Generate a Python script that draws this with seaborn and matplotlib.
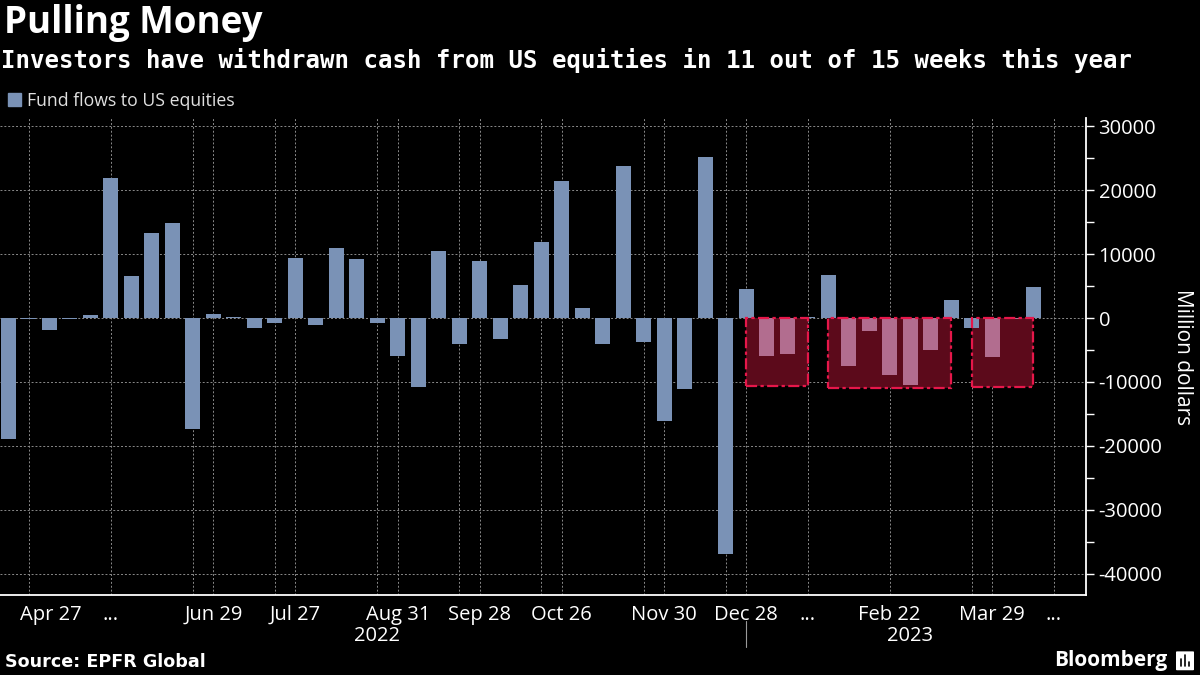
import seaborn as sns
import matplotlib.pyplot as plt
import matplotlib.patches as mpatches
from matplotlib.lines import Line2D
from matplotlib.transforms import ScaledTranslation
import pandas as pd

# weekly dates (the week of Jan 4 2023 is not in the data)
semanas = list(pd.date_range("2022-04-20", "2022-12-28", freq="7D")) + \
    list(pd.date_range("2023-01-11", "2023-04-12", freq="7D"))

# fund flows to US equities, million dollars
fluxos = [-18900, -200, -1900, -100, 500, 21900, 6600, 13300, 14900, -17300,
          700, 200, -1500, -700, 9400, -1100, 11000, 9300, -800, -6000,
          -10800, 10500, -4000, 8950, -3350, 5200, 11900, 21400, 1600, -4000,
          23800, -3800, -16150, -11150, 25200, -36900, 4600, -6000, -5700, 200,
          6750, -7550, -2100, -8950, -10500, -5050, 2850, -1600, -6150, -200,
          4900]

# highlighted stretches of outflows in 2023: (first week, last week, depth)
caixas = [("2022-12-28", "2023-01-25", -10600),
          ("2023-02-01", "2023-03-15", -10900),
          ("2023-03-22", "2023-04-12", -10750)]

rotulos_x = {"2022-04-27": "Apr 27", "2022-05-25": "...", "2022-06-29": "Jun 29",
             "2022-07-27": "Jul 27", "2022-08-31": "Aug 31", "2022-09-28": "Sep 28",
             "2022-10-26": "Oct 26", "2022-11-30": "Nov 30", "2022-12-28": "Dec 28",
             "2023-01-25": "...", "2023-02-22": "Feb 22", "2023-03-29": "Mar 29",
             "2023-04-19": "..."}
grade_x = ["2022-04-27", "2022-05-25", "2022-06-22", "2022-06-29", "2022-07-20",
           "2022-07-27", "2022-08-24", "2022-08-31", "2022-09-21", "2022-09-28",
           "2022-10-19", "2022-10-26", "2022-11-23", "2022-11-30", "2022-12-21",
           "2022-12-28", "2023-01-25", "2023-02-22", "2023-03-22", "2023-03-29",
           "2023-04-19"]
marcas_x = ["2022-04-20", "2022-05-04", "2022-05-18", "2022-06-01", "2022-06-15",
            "2022-07-06", "2022-08-03", "2022-08-17", "2022-09-07", "2022-10-05",
            "2022-11-02", "2022-11-16", "2022-12-07", "2023-01-11", "2023-02-08",
            "2023-03-08", "2023-04-05"]
anos = [("2022", "2022-08-24"), ("2023", "2023-03-01")]

AZUL = "#7a92b6"
ROSA = "#b26d8f"
VINHO = "#5c0a1b"
VERMELHO = "#e6174a"

datas = [d.strftime("%Y-%m-%d") for d in semanas]


def posicao(data):
    # categorical position of a week, extended past the last bar
    if data in datas:
        return datas.index(data)
    extra = (pd.Timestamp(data) - semanas[-1]).days // 7
    return len(datas) - 1 + extra


grupo = []
for i in range(len(datas)):
    dentro = any(posicao(a) < i < posicao(b) for a, b, _ in caixas)
    grupo.append("destaque" if dentro else "normal")

df = pd.DataFrame({"semana": datas, "fluxo": fluxos, "grupo": grupo})

sns.set_style("dark")
plt.rcParams["font.family"] = ["Open Sans", "DejaVu Sans"]

fig = plt.figure(figsize=(12, 6.75), dpi=100, facecolor="black")
ax = fig.add_axes([0.0, 0.1185, 0.905, 0.7065])
ax.set_facecolor("black")

sns.barplot(data=df, x="semana", y="fluxo", hue="grupo", dodge=False,
            palette={"normal": AZUL, "destaque": ROSA}, width=0.73,
            saturation=1, legend=False, ax=ax, zorder=2,
            edgecolor="none", linewidth=0)

for a, b, fundo in caixas:
    x0, x1 = posicao(a), posicao(b)
    ax.add_patch(mpatches.Rectangle((x0, fundo), x1 - x0, -fundo, facecolor=VINHO,
                                    edgecolor="none", zorder=1))
    ax.add_patch(mpatches.Rectangle((x0, fundo), x1 - x0, -fundo, facecolor="none",
                                    edgecolor=VERMELHO, linewidth=1.6,
                                    linestyle=(0, (5, 1.5, 1.5, 1.5)), zorder=3))

ax.set_xlim(-0.41, 52.58)
ax.set_ylim(-43300, 31250)

# grid
for d in grade_x:
    ax.axvline(posicao(d), color="#8a8a8a", linewidth=0.7, linestyle=(0, (2, 2)), zorder=0)
for v in range(-40000, 30001, 10000):
    ax.axhline(v, color="#8a8a8a", linewidth=0.7, linestyle=(0, (2, 2)), zorder=0)
ax.grid(False)

# x axis
pos_rot = [posicao(d) for d in rotulos_x]
ax.set_xticks(pos_rot)
ax.set_xticklabels(list(rotulos_x.values()), color="white", fontsize=14.5)
ax.set_xticks(sorted(set(posicao(d) for d in marcas_x + grade_x) - set(pos_rot)), minor=True)
ax.tick_params(axis="x", which="both", colors="white", length=5, width=1, direction="out", pad=2)
ax.set_xlabel("")
primeiro = ax.get_xticklabels()[0]
primeiro.set_ha("left")
primeiro.set_transform(primeiro.get_transform() + ScaledTranslation(-0.09, 0, fig.dpi_scale_trans))

# year labels and separator
for ano, d in anos:
    ax.annotate(ano, xy=(posicao(d), 0), xycoords=("data", "axes fraction"),
                xytext=(0, -29.5), textcoords="offset points", ha="center", va="center",
                color="white", fontsize=14.5, annotation_clip=False)
ax.plot([posicao("2022-12-28")] * 2, [-0.055, -0.11], transform=ax.get_xaxis_transform(),
        color="#9a9a9a", linewidth=0.8, clip_on=False)

# y axis on the right
ax.yaxis.tick_right()
ax.yaxis.set_label_position("right")
ax.set_yticks(range(-40000, 30001, 10000))
ax.set_yticks(range(-35000, 30000, 10000), minor=True)
ax.set_yticklabels([str(v) for v in range(-40000, 30001, 10000)], color="white", fontsize=14.5)
ax.tick_params(axis="y", which="both", colors="white", length=6, width=1, direction="out", pad=3)
ax.set_ylabel("Million dollars", color="white", fontsize=15, rotation=270, labelpad=22)

for lado in ["top", "left"]:
    ax.spines[lado].set_visible(False)
for lado in ["bottom", "right"]:
    ax.spines[lado].set_visible(True)
    ax.spines[lado].set_color("white")
    ax.spines[lado].set_linewidth(1.3)

# titles
fig.text(0.003, 0.966, "Pulling Money", color="white", fontsize=26.5, fontweight="bold",
         va="center", ha="left")
fig.text(0.001, 0.910, "Investors have withdrawn cash from US equities in 11 out of 15 weeks this year",
         color="white", fontsize=17.3, fontweight="bold", va="center", ha="left",
         family="DejaVu Sans Mono")

# legend
fig.legend(handles=[mpatches.Patch(color=AZUL, label="Fund flows to US equities")],
           loc="center left", bbox_to_anchor=(0.007, 0.851), frameon=False,
           borderaxespad=0, borderpad=0,
           handlelength=0.7, handleheight=0.75, handletextpad=0.35,
           labelcolor="#e0e0e0", fontsize=12.7)

# footer
fig.text(0.004, 0.019, "Source: EPFR Global", color="white", fontsize=12.6,
         fontweight="bold", va="center", ha="left", family="DejaVu Sans")
fig.text(0.973, 0.022, "Bloomberg", color="white", fontsize=15, fontweight="bold",
         va="center", ha="right")
fig.patches.append(mpatches.FancyBboxPatch((0.981, 0.008), 0.013, 0.026,
                                           boxstyle="round,pad=0.001", transform=fig.transFigure,
                                           facecolor="white", edgecolor="none"))
for xi, h in [(0.9845, 0.010), (0.9875, 0.016), (0.9905, 0.007)]:
    fig.add_artist(Line2D([xi, xi], [0.013, 0.013 + h], color="black", linewidth=1.2,
                          transform=fig.transFigure))

fig.savefig("out.png", dpi=100, facecolor="black")
